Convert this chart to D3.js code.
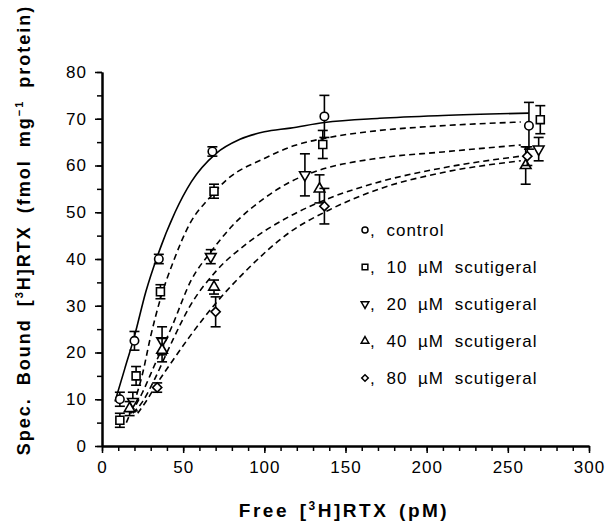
<!DOCTYPE html>
<html>
<head>
<meta charset="utf-8">
<script src="https://d3js.org/d3.v7.min.js"></script>
<style>
  body { margin: 0; background: #fff; }
  text { font-family: "Liberation Sans", Arial, Helvetica, sans-serif; fill: #000; }
</style>
</head>
<body>
<svg id="chart"></svg>
<script>
// ---- data ----
const seriesNames = ["control", "10 \u00B5M scutigeral", "20 \u00B5M scutigeral", "40 \u00B5M scutigeral", "80 \u00B5M scutigeral"];
const seriesSymbols = ["circle", "square", "down", "up", "diamond"];

const controlX = [11, 20, 35, 68, 137, 263];
const controlY = [10, 22.5, 40, 63, 70.5, 68.5];
const controlErr = [1.5, 2, 1, 1, 4.5, 5];

const scut10X = [11, 21, 36, 69, 136, 270];
const scut10Y = [5.5, 15, 33, 54.5, 64.5, 69.8];
const scut10Err = [1.5, 2, 1.5, 1.5, 3, 3];

const scut20X = [19, 37, 67, 125, 269];
const scut20Y = [9.5, 22.5, 40.5, 58, 63.5];
const scut20Err = [2, 3, 1.5, 4.5, 2.5];

const scut40X = [17, 37, 69, 134, 261];
const scut40Y = [8, 20.5, 34, 55, 60];
const scut40Err = [1.5, 2.5, 1.5, 3, 4];

const scut80X = [34, 70, 137, 262];
const scut80Y = [12.5, 28.7, 51.3, 62];
const scut80Err = [1, 3.2, 3.8, 2];

// fitted curves
const fitControlX = [8, 14, 20, 27, 34, 45, 55, 70, 85, 100, 116, 137, 171, 210, 263];
const fitControlY = [9.5, 16.5, 23.5, 33, 40.5, 50, 56.5, 62.5, 65.6, 67.2, 68, 69.2, 70.1, 70.7, 71.2];
const fit10X = [15, 19, 25, 30, 36, 44, 54, 66, 77, 100, 118, 140, 171, 200, 258];
const fit10Y = [5, 8.5, 15.5, 23.5, 31.5, 39.5, 47.5, 53, 57, 61.5, 64.2, 66, 67.5, 68.3, 69.3];
const fit20X = [18, 25, 32, 43, 55, 67, 80, 100, 116, 134, 171, 210, 258];
const fit20Y = [7, 11.5, 17, 25.5, 35.5, 41.5, 47, 53, 56.5, 59, 61.6, 62.9, 64.4];
const fit40X = [19, 25, 32, 42, 54, 70, 90, 116, 140, 171, 210, 258];
const fit40Y = [7, 9.5, 14, 21.5, 29.8, 37.3, 43.5, 49.2, 53, 56.5, 59.5, 62];
const fit80X = [22, 28, 34, 44, 54, 70, 89, 116, 140, 171, 210, 258];
const fit80Y = [7, 10, 13.4, 18.5, 23.4, 30.5, 37.6, 45.8, 50.5, 55, 58.5, 61];

const xTicks = [0, 50, 100, 150, 200, 250, 300];
const yTicks = [0, 10, 20, 30, 40, 50, 60, 70, 80];

const series = [
  { x: controlX, y: controlY, e: controlErr, fx: fitControlX, fy: fitControlY, dash: null },
  { x: scut10X, y: scut10Y, e: scut10Err, fx: fit10X, fy: fit10Y, dash: "6,4" },
  { x: scut20X, y: scut20Y, e: scut20Err, fx: fit20X, fy: fit20Y, dash: "6,4" },
  { x: scut40X, y: scut40Y, e: scut40Err, fx: fit40X, fy: fit40Y, dash: "6,4" },
  { x: scut80X, y: scut80Y, e: scut80Err, fx: fit80X, fy: fit80Y, dash: "6,4" }
];

// ---- layout ----
const width = 607, height = 524;
const svg = d3.select("#chart").attr("width", width).attr("height", height);

const x = d3.scaleLinear().domain([0, 300]).range([102, 589]);
const y = d3.scaleLinear().domain([0, 80]).range([446, 72]);

// axes (major + minor ticks)
const gx = svg.append("g").attr("transform", `translate(0,${y(0)})`);
gx.call(d3.axisBottom(x).tickValues(d3.range(0, 301, 10)).tickFormat("").tickSize(5).tickSizeOuter(0));
gx.call(g => g.append("g").call(d3.axisBottom(x).tickValues(xTicks).tickSize(7).tickPadding(8).tickSizeOuter(0)));
const gy = svg.append("g").attr("transform", `translate(${x(0)},0)`);
gy.call(d3.axisLeft(y).tickValues(d3.range(0, 81, 5)).tickFormat("").tickSize(5).tickSizeOuter(0));
gy.call(g => g.append("g").call(d3.axisLeft(y).tickValues(yTicks).tickSize(7).tickPadding(8).tickSizeOuter(0)));

svg.selectAll(".domain").attr("stroke", "#000").attr("stroke-width", 2);
svg.selectAll(".tick line").attr("stroke", "#000").attr("stroke-width", 1.5);
svg.selectAll(".tick text").style("font-size", "17px").style("letter-spacing", "1px").attr("fill", "#000");

// fitted curves
const line = d3.line().x(d => x(d[0])).y(d => y(d[1])).curve(d3.curveMonotoneX);
series.forEach(s => {
  svg.append("path")
    .datum(s.fx.map((v, i) => [v, s.fy[i]]))
    .attr("d", line)
    .attr("fill", "none")
    .attr("stroke", "#000")
    .attr("stroke-width", 1.6)
    .attr("stroke-dasharray", s.dash);
});

// markers
function symbolPath(kind, size) {
  if (kind === "circle") return d3.symbol(d3.symbolCircle, size * 0.8)();
  if (kind === "square") return d3.symbol(d3.symbolSquare, size * 0.9)();
  if (kind === "up" || kind === "down") return d3.symbol(d3.symbolTriangle, size * 0.7)();
  return d3.symbol(d3.symbolSquare, size * 0.6)();
}
function symbolRotate(kind) {
  if (kind === "down") return 180;
  if (kind === "diamond") return 45;
  return 0;
}

series.forEach((s, k) => {
  const kind = seriesSymbols[k];
  const pts = s.x.map((v, i) => ({ x: v, y: s.y[i], e: s.e[i] }));
  const g = svg.append("g");
  const eb = g.selectAll(".eb").data(pts).enter().append("g").attr("stroke", "#000").attr("stroke-width", 1.6);
  eb.append("line").attr("x1", d => x(d.x)).attr("x2", d => x(d.x)).attr("y1", d => y(d.y - d.e)).attr("y2", d => y(d.y + d.e));
  eb.append("line").attr("x1", d => x(d.x) - 5).attr("x2", d => x(d.x) + 5).attr("y1", d => y(d.y - d.e)).attr("y2", d => y(d.y - d.e));
  eb.append("line").attr("x1", d => x(d.x) - 5).attr("x2", d => x(d.x) + 5).attr("y1", d => y(d.y + d.e)).attr("y2", d => y(d.y + d.e));
  g.selectAll(".m").data(pts).enter().append("path")
    .attr("d", symbolPath(kind, 70))
    .attr("transform", d => `translate(${x(d.x)},${y(d.y)}) rotate(${symbolRotate(kind)})`)
    .attr("fill", "#fff").attr("stroke", "#000").attr("stroke-width", 1.6);
});

// legend
const legend = svg.append("g").attr("transform", "translate(365,230)");
seriesNames.forEach((name, i) => {
  const row = legend.append("g").attr("transform", `translate(0,${i * 37})`);
  row.append("path").attr("d", symbolPath(seriesSymbols[i], 36))
    .attr("transform", `rotate(${symbolRotate(seriesSymbols[i])})`)
    .attr("fill", "#fff").attr("stroke", "#000").attr("stroke-width", 1.5);
  row.append("text").attr("x", 5).attr("y", 6)
    .style("font-size", "17px").style("letter-spacing", "1px").style("word-spacing", "5px")
    .text(", " + name);
});

// axis titles
const xt = svg.append("text").attr("x", 344).attr("y", 517).attr("text-anchor", "middle")
  .style("font-size", "19px").style("font-weight", "bold").style("letter-spacing", "2.5px").style("word-spacing", "3px");
xt.append("tspan").text("Free [");
xt.append("tspan").attr("dy", -7).style("font-size", "12px").text("3");
xt.append("tspan").attr("dy", 7).text("H]RTX (pM)");

const yt = svg.append("text").attr("transform", "translate(30,230) rotate(-90)").attr("text-anchor", "middle")
  .style("font-size", "18px").style("font-weight", "bold").style("letter-spacing", "2px").style("word-spacing", "5px");
yt.append("tspan").text("Spec. Bound [");
yt.append("tspan").attr("dy", -7).style("font-size", "11px").text("3");
yt.append("tspan").attr("dy", 7).text("H]RTX (fmol mg");
yt.append("tspan").attr("dy", -7).style("font-size", "11px").text("\u22121");
yt.append("tspan").attr("dy", 7).text(" protein)");
</script>
</body>
</html>
